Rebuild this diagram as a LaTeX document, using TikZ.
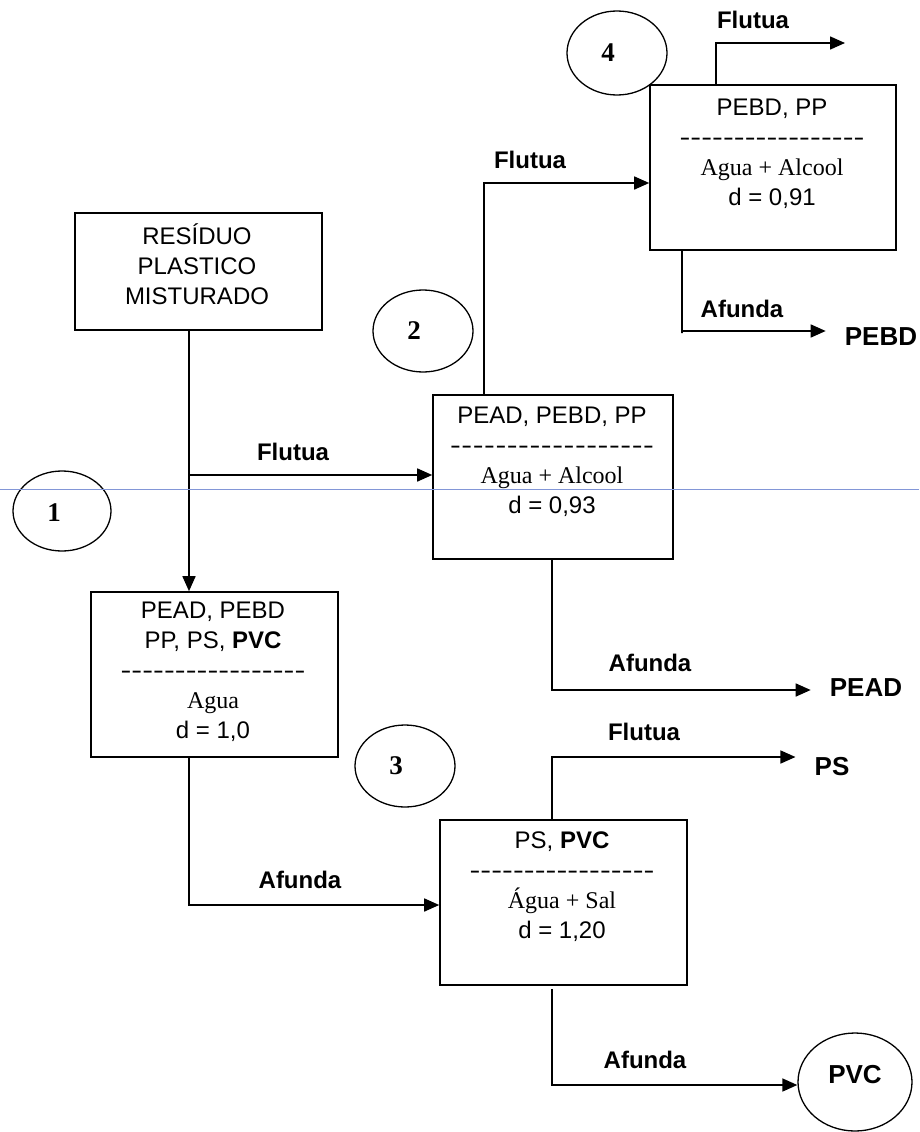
\documentclass[tikz,border=0pt]{standalone}
\usepackage{fontspec}
\usepackage{graphicx}
\setmainfont{Liberation Serif}
\setsansfont{Liberation Sans}
\usetikzlibrary{arrows.meta,shapes.geometric}
\newcommand{\dline}[1]{\hbox to #1{\xleaders\hbox{\scalebox{1.35}[1]{-}}\hfill}}
\definecolor{guide}{RGB}{130,150,215}
\begin{document}
\begin{tikzpicture}[x=1pt,y=-1pt,
 line/.style={line width=1.6pt},
 arr/.style={line width=1.6pt,-{Triangle[length=15pt,width=13pt]}},
 box/.style={draw,line width=1.6pt,rectangle,inner sep=0pt},
 boxtext/.style={align=center,font=\fontsize{24}{30}\selectfont\sffamily,inner sep=0pt},
 lab/.style={font=\fontsize{24}{28}\selectfont\sffamily\bfseries,inner sep=0pt},
 endlab/.style={font=\fontsize{26}{30}\selectfont\sffamily\bfseries,inner xsep=19pt,inner ysep=0pt},
 ellip/.style={draw,ellipse,line width=1.3pt,inner sep=0pt},
 num/.style={font=\fontsize{27}{30}\selectfont\rmfamily\bfseries}
]
\useasboundingbox (0,0) rectangle (919,1132);

% boxes
\node[box,minimum width=247pt,minimum height=117pt] (res) at (198.5,271.5) {};
\node[box,minimum width=247pt,minimum height=165pt] (b1) at (214.5,674.5) {};
\node[box,minimum width=240pt,minimum height=164pt] (b2) at (553,477) {};
\node[box,minimum width=247pt,minimum height=165pt] (b3) at (563.5,902.5) {};
\node[box,minimum width=246pt,minimum height=165pt] (b4) at (773,167.5) {};

% box texts
\node[boxtext] (tres) at (197,264) {RESÍDUO\\PLASTICO\\MISTURADO};
\node[boxtext] (t1) at (213,672) {PEAD, PEBD\\PP, PS, \textbf{PVC}\\\dline{185pt}\\\rmfamily Agua\\\sffamily d = 1,0};
\node[boxtext] (t2) at (552,462) {PEAD, PEBD, PP\\\dline{205pt}\\\rmfamily Agua + Alcool\\\sffamily d = 0,93};
\node[boxtext] (t3) at (562,887) {PS, \textbf{PVC}\\\dline{185pt}\\\rmfamily Água + Sal\\\sffamily d = 1,20};
\node[boxtext] (t4) at (772,154) {PEBD, PP\\\dline{185pt}\\\rmfamily Agua + Alcool\\\sffamily d = 0,91};

% step circles
\node[ellip,minimum width=98pt,minimum height=80pt,label={[num,xshift=-8pt,yshift=-2pt]center:1}] (k1) at (62,511) {};
\node[ellip,minimum width=100pt,minimum height=82pt,label={[num,xshift=-9pt]center:2}] (k2) at (423,331) {};
\node[ellip,minimum width=100pt,minimum height=82pt,label={[num,xshift=-9pt]center:3}] (k3) at (405,766) {};
\node[ellip,minimum width=100pt,minimum height=84pt,label={[num,xshift=-9pt]center:4}] (k4) at (617,53) {};
\node[ellip,minimum width=114pt,minimum height=98pt,label={[font=\fontsize{26}{30}\selectfont\sffamily\bfseries,yshift=7pt]center:PVC}] (pvc) at (855,1082) {};

% end labels
\node[endlab] (pebd) at (881,337) {PEBD};
\node[endlab] (pead) at (866,688) {PEAD};
\node[endlab] (ps) at (832,767) {PS};

% flow labels
\node[lab] (l1) at (293,452) {Flutua};
\node[lab] (l2) at (530,160) {Flutua};
\node[lab] (l3) at (753,20) {Flutua};
\node[lab] (l4) at (742,309) {Afunda};
\node[lab] (l5) at (650,663) {Afunda};
\node[lab] (l6) at (300,880) {Afunda};
\node[lab] (l7) at (644,732) {Flutua};
\node[lab] (l8) at (645,1060) {Afunda};

% corner coordinates
\coordinate (j1) at (189,475);
\coordinate (c2) at (484,183);
\coordinate (c4f) at (716,43);
\coordinate (e4f) at (845,43);
\coordinate (c4a) at (682,331);
\coordinate (c2a) at (552,690);
\coordinate (c1a) at (189,905);
\coordinate (c3f) at (552,757);
\coordinate (c3a) at (552,1085);

% connectors
\draw[line] (res.south -| j1) -- (j1);
\draw[arr] (j1) -- (j1 |- b1.north);
\draw[arr] (j1) -- (j1 -| b2.west);
\draw[arr] (b2.north -| c2) -- (c2) -- (c2 -| b4.west);
\draw[arr] (b4.north -| c4f) -- (c4f) -- (e4f);
\draw[arr] (b4.south -| c4a) -- ([yshift=-2pt]c4a) -- (c4a) -- (c4a -| pebd.west);
\draw[arr] (b2.south -| c2a) -- (c2a) -- (c2a -| pead.west);
\draw[arr] (b1.south -| c1a) -- (c1a) -- (c1a -| b3.west);
\draw[arr] (b3.north -| c3f) -- (c3f) -- (c3f -| ps.west);
\draw[arr] ([yshift=-3pt]b3.south -| c3a) -- (c3a) -- (c3a -| pvc.west);

% thin guide line across the page
\draw[guide,line width=1pt] (0,489) -- (919,489);
\end{tikzpicture}
\end{document}
